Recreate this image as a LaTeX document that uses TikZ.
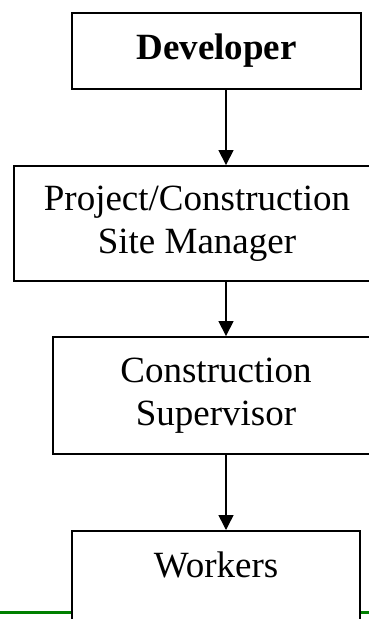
\documentclass[tikz,border=0pt]{standalone}
\usepackage{fontspec}
\setmainfont{Liberation Serif}
\usetikzlibrary{arrows.meta}
\definecolor{rulegreen}{RGB}{0,128,0}
\tikzset{
  orgbox/.style={draw=black, line width=1.9pt, fill=white, rectangle,
    align=center, inner sep=0pt,
    font=\fontsize{37}{43}\selectfont},
  orgarrow/.style={line width=1.5pt, -{Triangle[width=15pt,length=15pt]}},
}
\begin{document}
\begin{tikzpicture}[x=1pt, y=-1pt]
  \useasboundingbox (0,0) rectangle (369,619);
  \clip (0,0) rectangle (369,619);
  \fill[white] (0,0) rectangle (369,619);

  % green page rule running behind the last box
  \draw[rulegreen, line width=3pt] (0,612) -- (369,612);

  \node[orgbox, minimum width=289pt, minimum height=76pt,
        font=\fontsize{37}{43}\selectfont\bfseries]
        (dev) at (216.5,51) {Developer};
  \node[orgbox, minimum width=366pt, minimum height=115pt]
        (proj) at (197,223.5) {Project/Construction\\Site Manager};
  \node[orgbox, minimum width=326pt, minimum height=117pt]
        (sup) at (216,395.5) {Construction\\Supervisor};
  \node[orgbox, minimum width=288pt, anchor=north, inner ysep=21pt,
        text height=26pt, text depth=60pt]
        (work) at (216,530) {Workers};

  % connectors run down a common vertical line
  \coordinate (spine) at (226,0);
  \draw[orgarrow] (dev.south -| spine) -- (proj.north -| spine);
  \draw[orgarrow] (proj.south -| spine) -- (sup.north -| spine);
  \draw[orgarrow] (sup.south -| spine) -- (work.north -| spine);
\end{tikzpicture}
\end{document}
